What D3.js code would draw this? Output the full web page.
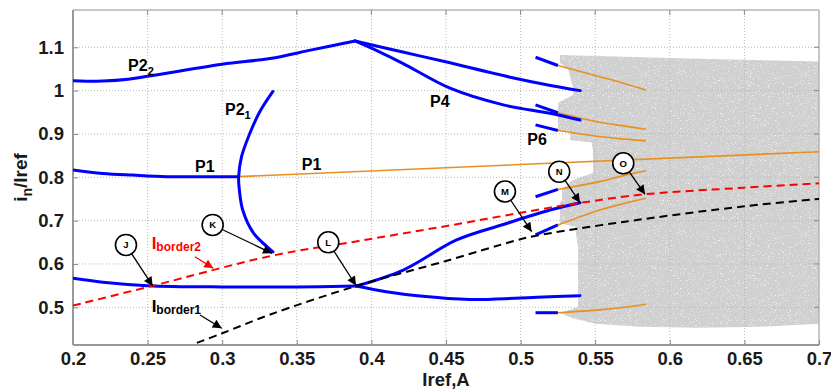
<!DOCTYPE html>
<html><head><meta charset="utf-8">
<script src="https://cdn.jsdelivr.net/npm/d3@7"></script>
<style>
html,body{margin:0;padding:0;background:#fff;}
svg text{font-family:"Liberation Sans",Arial,sans-serif;font-weight:bold;}
</style></head>
<body><svg id="c" width="831" height="389"></svg>
<script>
// ---------- data ----------
const xTickVals = [0.2,0.25,0.3,0.35,0.4,0.45,0.5,0.55,0.6,0.65,0.7];
const xTickLabels = ["0.2","0.25","0.3","0.35","0.4","0.45","0.5","0.55","0.6","0.65","0.7"];
const yTickVals = [0.5,0.6,0.7,0.8,0.9,1.0,1.1];
const yTickLabels = ["0.5","0.6","0.7","0.8","0.9","1","1.1"];

// blue branches
const p22X = [0.2,0.22,0.237,0.25,0.3,0.332,0.36,0.389];
const p22Y = [1.023,1.022,1.026,1.033,1.061,1.074,1.094,1.1146];
const upX = [0.389,0.421,0.449,0.493,0.52,0.54];
const upY = [1.1146,1.089,1.067,1.031,1.012,1.0];
const p4X = [0.389,0.405,0.421,0.4527,0.4884,0.5197,0.5398];
const p4Y = [1.1146,1.09,1.063,1.0055,0.967,0.9477,0.932];
const p1X = [0.2,0.22,0.24,0.263,0.311];
const p1Y = [0.817,0.809,0.805,0.8015,0.8015];
const p21X = [0.334,0.325,0.3186,0.313,0.311,0.3115,0.3137,0.321,0.330,0.334];
const p21Y = [0.998,0.95,0.902,0.848,0.80,0.771,0.725,0.671,0.640,0.628];
const lowX = [0.2,0.22,0.25,0.3,0.35,0.3897];
const lowY = [0.567,0.558,0.550,0.547,0.547,0.549];
const sX = [0.3897,0.4214,0.4571,0.4884,0.5197,0.5398];
const sY = [0.549,0.586,0.6553,0.691,0.7245,0.7414];
const dipX = [0.3897,0.41,0.4326,0.466,0.4963,0.511,0.5398];
const dipY = [0.549,0.536,0.526,0.518,0.5208,0.523,0.5268];
// short blue segments (x from 0.51 to 0.525)
const segX = [0.51,0.525];
const segStartY = [1.077,0.967,0.921,0.755,0.667,0.4875];
const segEndY   = [1.058,0.949,0.908,0.772,0.690,0.4875];

// orange continuations
const orX = [0.525,0.553,0.57,0.584];
const or1Y = [1.058,1.032,1.016,1.0015];
const or2Y = [0.949,0.927,0.918,0.911];
const or3Y = [0.908,0.894,0.888,0.884];
const or4Y = [0.772,0.790,0.805,0.815];
const or5Y = [0.690,0.7245,0.740,0.7515];
const or6Y = [0.4875,0.494,0.500,0.507];
const p1oX = [0.311,0.7];
const p1oY = [0.8015,0.859];

// borders
const b2X = [0.2,0.2527,0.3334,0.3897,0.4527,0.5197,0.54,0.5834,0.65,0.7];
const b2Y = [0.504,0.549,0.619,0.652,0.689,0.730,0.741,0.7608,0.776,0.786];
const b1X = [0.283,0.3,0.3327,0.3897,0.45,0.4963,0.5096,0.57,0.65,0.7];
const b1Y = [0.418,0.440,0.484,0.549,0.607,0.6537,0.6646,0.6976,0.733,0.750];

// grey cloud outline
const cloudX = [0.5264,0.60,0.70,0.70,0.66,0.62,0.58,0.55,0.535,0.5264,0.5385,0.5385,0.5365,0.5264,0.5264,0.5277,0.5277,0.5351,0.5485,0.5485,0.5475,0.5331,0.5331,0.5251,0.5251,0.5351,0.5351,0.532,0.5264];
const cloudY = [1.082,1.075,1.067,0.462,0.455,0.453,0.455,0.462,0.475,0.4868,0.5007,0.6392,0.6853,0.6946,0.7407,0.7476,0.771,0.794,0.81,0.863,0.880,0.886,0.905,0.909,0.972,0.99,1.0085,1.048,1.064];

// annotations (circle centre and arrow tip, in data units)
const annLetters = ["J","K","L","M","N","O"];
const annCX = [0.2355,0.2936,0.3711,0.4895,0.5259,0.5688];
const annCY = [0.6438,0.690,0.650,0.7672,0.8129,0.8323];
const annTX = [0.2534,0.3334,0.3897,0.5074,0.5398,0.5834];
const annTY = [0.5492,0.6246,0.5503,0.6745,0.7414,0.7608];

// curve labels
const labMain = ["P2","P2","P1","P1","P4","P6"];
const labSub  = ["2","1","","","",""];
const labX = [0.2369,0.3019,0.2818,0.3533,0.4393,0.5045];
const labY = [1.0453,0.9438,0.813,0.8169,0.963,0.8746];

// ---------- chart ----------
const W=831,H=389, L=73,R=819,T=10,B=345;
const svg=d3.select("#c");
const x=d3.scaleLinear().domain([0.2,0.7]).range([L,R]);
const y=d3.scaleLinear().domain([0.413,1.186]).range([B,T]);
const zip=(a,b)=>a.map((v,i)=>[v,b[i]]);
const line=d3.line().x(d=>x(d[0])).y(d=>y(d[1])).curve(d3.curveCatmullRom.alpha(0.5));
const lineLin=d3.line().x(d=>x(d[0])).y(d=>y(d[1]));

const defs=svg.append("defs");
const f=defs.append("filter").attr("id","speckle").attr("x",0).attr("y",0).attr("width",1).attr("height",1);
f.append("feTurbulence").attr("type","fractalNoise").attr("baseFrequency",1.6).attr("numOctaves",1).attr("seed",7).attr("result","n");
f.append("feColorMatrix").attr("in","n").attr("type","matrix")
 .attr("values","0 0 0 0 1  0 0 0 0 1  0 0 0 0 1  5 0 0 0 -3.0").attr("result","w");
f.append("feComposite").attr("in","w").attr("in2","SourceGraphic").attr("operator","in").attr("result","wc");
const fm=f.append("feMerge");
fm.append("feMergeNode").attr("in","SourceGraphic");
fm.append("feMergeNode").attr("in","wc");

function marker(id,color){
  defs.append("marker").attr("id",id).attr("viewBox","0 0 10 10").attr("refX",10).attr("refY",5)
   .attr("markerWidth",11).attr("markerHeight",9).attr("markerUnits","userSpaceOnUse").attr("orient","auto")
   .append("path").attr("d","M0,0L10,5L0,10z").attr("fill",color);
}
marker("ab","#000"); marker("ar","#ff0000");

const clip=defs.append("clipPath").attr("id","clip");
clip.append("rect").attr("x",L).attr("y",T).attr("width",R-L).attr("height",B-T);

// grey cloud
svg.append("path").attr("d",lineLin(zip(cloudX,cloudY))+"Z").attr("fill","#d0d0d0")
  .attr("filter","url(#speckle)");

// grid
const grid=svg.append("g").attr("stroke","#b8b8b8").attr("stroke-width",1).attr("stroke-dasharray","1,2");
xTickVals.slice(1,-1).forEach(v=>grid.append("line").attr("x1",x(v)).attr("x2",x(v)).attr("y1",T).attr("y2",B));
yTickVals.forEach(v=>grid.append("line").attr("x1",L).attr("x2",R).attr("y1",y(v)).attr("y2",y(v)));

// frame
svg.append("line").attr("x1",L).attr("x2",R).attr("y1",T).attr("y2",T).attr("stroke","#b4b4b4").attr("stroke-width",1.5);
svg.append("line").attr("x1",R).attr("x2",R).attr("y1",T).attr("y2",B).attr("stroke","#b4b4b4").attr("stroke-width",1.5);

// axes
const ax=svg.append("g").attr("transform",`translate(0,${B})`)
 .call(d3.axisBottom(x).tickValues(xTickVals).tickFormat((d,i)=>xTickLabels[i]).tickSizeInner(-5).tickSizeOuter(0).tickPadding(7));
const ay=svg.append("g").attr("transform",`translate(${L},0)`)
 .call(d3.axisLeft(y).tickValues(yTickVals).tickFormat((d,i)=>yTickLabels[i]).tickSizeInner(-5).tickSizeOuter(0).tickPadding(9));
[ax,ay].forEach(g=>{
  g.select(".domain").attr("stroke","#999").attr("stroke-width",2);
  g.selectAll(".tick line").attr("stroke","#888");
  g.selectAll(".tick text").attr("font-size",18.5).attr("fill","#1a1a1a").attr("font-family","Liberation Sans, Arial, sans-serif").attr("font-weight","bold");
});
ay.select(".domain").attr("d",`M0,${T}V${B}`);
ax.select(".domain").attr("d",`M${L},0H${R}`);
// top and right ticks
xTickVals.slice(1,-1).forEach(v=>svg.append("line").attr("x1",x(v)).attr("x2",x(v)).attr("y1",T).attr("y2",T+5).attr("stroke","#888"));
yTickVals.forEach(v=>svg.append("line").attr("x1",R).attr("x2",R-5).attr("y1",y(v)).attr("y2",y(v)).attr("stroke","#888"));

// axis titles
svg.append("text").attr("x",(L+R)/2).attr("y",386).attr("text-anchor","middle").attr("font-size",18.5).attr("fill","#1a1a1a").text("Iref,A");
const yl=svg.append("text").attr("transform",`translate(27,${(T+B)/2}) rotate(-90)`).attr("text-anchor","middle").attr("font-size",19).attr("fill","#1a1a1a");
yl.append("tspan").text("i");
yl.append("tspan").attr("font-size",14).attr("dy",5).text("n");
yl.append("tspan").attr("dy",-5).text("/Iref");

const plot=svg.append("g").attr("clip-path","url(#clip)");
const orange="#e8901e", blue="#0000ff";
// orange
[or1Y,or2Y,or3Y,or4Y,or5Y,or6Y].forEach(ys=>plot.append("path").attr("d",line(zip(orX,ys))).attr("fill","none").attr("stroke",orange).attr("stroke-width",1.6));
plot.append("path").attr("d",lineLin(zip(p1oX,p1oY))).attr("fill","none").attr("stroke",orange).attr("stroke-width",1.6);
// blue
[[p22X,p22Y],[upX,upY],[p4X,p4Y],[p1X,p1Y],[p21X,p21Y],[lowX,lowY],[sX,sY],[dipX,dipY]].forEach(([a,b])=>
  plot.append("path").attr("d",line(zip(a,b))).attr("fill","none").attr("stroke",blue).attr("stroke-width",3).attr("stroke-linecap","round"));
segStartY.forEach((v,i)=>plot.append("path").attr("d",lineLin([[segX[0],v],[segX[1],segEndY[i]]])).attr("fill","none").attr("stroke",blue).attr("stroke-width",3));
// borders
plot.append("path").attr("d",line(zip(b1X,b1Y))).attr("fill","none").attr("stroke","#000").attr("stroke-width",2).attr("stroke-dasharray","8,5");
plot.append("path").attr("d",line(zip(b2X,b2Y))).attr("fill","none").attr("stroke","#ff0000").attr("stroke-width",2).attr("stroke-dasharray","8,5");

// curve labels
labMain.forEach((m,i)=>{
  const t=svg.append("text").attr("x",x(labX[i])).attr("y",y(labY[i])).attr("font-size",16).attr("fill","#000").text(m);
  if(labSub[i]) t.append("tspan").attr("font-size",11).attr("dy",4).text(labSub[i]);
});

// border labels
function bl(txt,sub,col,xv,yv){
  const t=svg.append("text").attr("x",x(xv)).attr("y",y(yv)).attr("font-size",17).attr("fill",col).text(txt);
  t.append("tspan").attr("font-size",12).attr("dy",2).text(sub);
}
bl("I","border2","#ff0000",0.2527,0.6334);
bl("I","border1","#000",0.2527,0.4892);
svg.append("line").attr("x1",x(0.2818)).attr("y1",y(0.6168)).attr("x2",x(0.294)).attr("y2",y(0.590))
  .attr("stroke","#ff0000").attr("stroke-width",1.3).attr("marker-end","url(#ar)");
svg.append("line").attr("x1",x(0.2851)).attr("y1",y(0.4822)).attr("x2",x(0.2997)).attr("y2",y(0.4515))
  .attr("stroke","#000").attr("stroke-width",1.3).attr("marker-end","url(#ab)");

// circle annotations
const rC=10.5;
annLetters.forEach((s,i)=>{
  const cx=x(annCX[i]),cy=y(annCY[i]),tx=x(annTX[i]),ty=y(annTY[i]);
  const dx=tx-cx,dy=ty-cy,d=Math.hypot(dx,dy);
  svg.append("line").attr("x1",cx+dx/d*rC).attr("y1",cy+dy/d*rC).attr("x2",tx).attr("y2",ty)
    .attr("stroke","#000").attr("stroke-width",1.3).attr("marker-end","url(#ab)");
  svg.append("circle").attr("cx",cx).attr("cy",cy).attr("r",rC).attr("fill","#fff").attr("stroke","#000").attr("stroke-width",1.6);
  svg.append("text").attr("x",cx).attr("y",cy+3.3).attr("text-anchor","middle").attr("font-size",9.5).attr("fill","#000").text(s);
});
</script></body></html>
